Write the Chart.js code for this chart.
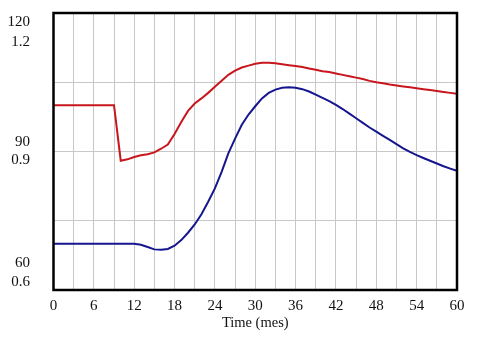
<!DOCTYPE html>
<html>
<head>
<meta charset="utf-8">
<script src="https://cdn.jsdelivr.net/npm/chart.js@4"></script>
<style>
  html, body { margin: 0; padding: 0; background: #ffffff; }
  #wrap { width: 479px; height: 344px; position: relative; }
</style>
</head>
<body>
<div id="wrap"><canvas id="c" width="479" height="344"></canvas></div>
<script>
// ---- data ----
const months = [0,1,2,3,4,5,6,7,8,9,10,11,12,13,14,15,16,17,18,19,20,21,22,23,24,25,26,27,28,29,30,31,32,33,34,35,36,37,38,39,40,41,42,43,44,45,46,47,48,49,50,51,52,53,54,55,56,57,58,59,60];
const redSeries = [100,100,100,100,100,100,100,100,100,100,88,88.3,88.8,89.2,89.4,89.8,90.6,91.5,93.8,96.4,98.8,100.4,101.5,102.7,104,105.3,106.6,107.5,108.2,108.6,109,109.2,109.2,109.1,108.9,108.7,108.5,108.3,108,107.7,107.4,107.2,106.9,106.6,106.3,106,105.7,105.3,105,104.8,104.5,104.3,104.1,103.9,103.7,103.5,103.3,103.1,102.9,102.7,102.5];
const blueSeries = [70,70,70,70,70,70,70,70,70,70,70,70,70,69.8,69.3,68.8,68.7,68.9,69.6,70.8,72.4,74.2,76.4,79.1,82,85.6,89.6,92.8,95.8,98,99.8,101.5,102.7,103.4,103.8,103.9,103.8,103.5,103,102.3,101.6,100.9,100.1,99.2,98.2,97.2,96.2,95.2,94.3,93.4,92.5,91.6,90.7,89.9,89.2,88.6,88,87.4,86.8,86.3,85.8];
const xTickLabels = [0,6,12,18,24,30,36,42,48,54,60];
const yTickValues = [120, 90, 60];
const yTickLabels = [['120','1.2'], ['90','0.9'], ['60','0.6']];
const xTitle = 'Time (mes)';

const FONT = '"Liberation Serif", "Times New Roman", serif';

const toPts = (vals) => vals.map((v, i) => ({x: months[i], y: v}));

const frame = {
  id: 'frame',
  afterDatasetsDraw(chart) {
    const a = chart.chartArea, ctx = chart.ctx;
    ctx.save();
    ctx.strokeStyle = '#000';
    ctx.lineWidth = 2.5;
    ctx.strokeRect(a.left, a.top, a.right - a.left, a.bottom - a.top);
    ctx.restore();
  },
  afterDraw(chart) {
    const ctx = chart.ctx, ys = chart.scales.y;
    ctx.save();
    ctx.font = '15px ' + FONT;
    ctx.fillStyle = '#111';
    ctx.textAlign = 'right';
    ctx.textBaseline = 'middle';
    const offsets = [[9, 29], [-9, 9], [-27, -8]];
    yTickValues.forEach((v, i) => {
      const py = ys.getPixelForValue(v);
      ctx.fillText(yTickLabels[i][0], 30, py + offsets[i][0]);
      ctx.fillText(yTickLabels[i][1], 30, py + offsets[i][1]);
    });
    ctx.restore();
  }
};

new Chart(document.getElementById('c'), {
  type: 'line',
  data: {
    datasets: [
      { data: toPts(redSeries), borderColor: '#c8161e', borderWidth: 2, pointRadius: 0, tension: 0, fill: false },
      { data: toPts(blueSeries), borderColor: '#16168f', borderWidth: 2, pointRadius: 0, tension: 0, fill: false }
    ]
  },
  options: {
    responsive: false,
    animation: false,
    events: [],
    layout: { padding: { left: 0, right: 22, top: 13, bottom: 12 } },
    plugins: { legend: { display: false }, tooltip: { enabled: false } },
    scales: {
      x: {
        type: 'linear', min: 0, max: 60,
        afterFit(s) { s.height = 42; },
        grid: { color: '#c8c8c8', lineWidth: 1, drawTicks: false },
        border: { display: false },
        ticks: {
          stepSize: 3, autoSkip: false, maxRotation: 0, padding: 7,
          color: '#111', font: { family: FONT, size: 15 },
          callback: (v) => xTickLabels.includes(v) ? String(v) : ''
        },
        title: { display: true, text: xTitle, color: '#111', font: { family: FONT, size: 14.5 }, padding: { top: 0, bottom: 0 } }
      },
      y: {
        type: 'linear', min: 60, max: 120,
        afterFit(s) { s.width = 53.5; },
        grid: { color: '#c8c8c8', lineWidth: 1, drawTicks: false },
        border: { display: false },
        ticks: { stepSize: 15, display: false }
      }
    }
  },
  plugins: [frame]
});
</script>
</body>
</html>
